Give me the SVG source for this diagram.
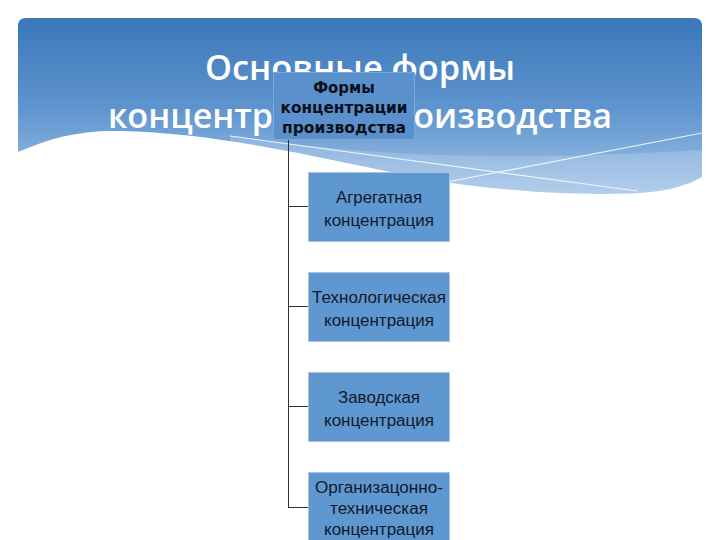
<svg xmlns="http://www.w3.org/2000/svg" width="720" height="540" viewBox="0 0 720 540">
<defs>
<linearGradient id="hdr" x1="0" y1="0" x2="0" y2="1">
<stop offset="0" stop-color="#3b77b9"/>
<stop offset="0.5" stop-color="#5f95cf"/>
<stop offset="1" stop-color="#a6c6e8"/>
</linearGradient>
<style>
.title{font-family:"Open Sans","Noto Sans",sans-serif;font-weight:600;font-size:35px;fill:#ffffff;text-anchor:middle}
.box{fill:#5f97d1;stroke:#a9c3e0;stroke-width:1}
.root{fill:#5a91cc;stroke:#7da9d8;stroke-width:1}
.lbl{font-family:"Liberation Sans",Arial,sans-serif;font-size:16px;fill:#111a2b;text-anchor:middle}
.rlbl{font-family:"DejaVu Sans",Verdana,sans-serif;font-weight:bold;font-size:15px;fill:#0a0f1a;text-anchor:middle}
.conn{fill:none;stroke:#2a2f3a;stroke-width:1}
</style>
</defs>
<rect width="720" height="540" fill="#ffffff"/>
<g id="header">
<path d="M18,26 Q18,18 26,18 L694,18 Q702,18 702,26 L702,200 L18,200 Z" fill="url(#hdr)"/>
<path d="M230,136 C330,150 450,165 702,150 L702,200 L230,200 Z" fill="#ffffff" opacity="0.18"/>
<path d="M230,136 L637,191" stroke="#eaf3fc" stroke-width="1.2" fill="none"/>
<path d="M447,182 L702,133" stroke="#eaf3fc" stroke-width="1.2" fill="none"/>
<path d="M18,152 C50,138 80,130 120,131 C220,133 320,158 420,178 C500,192 580,196 640,193 C670,191 690,184 702,177 L702,200 L18,200 Z" fill="#ffffff"/>
<rect x="0" y="196" width="720" height="10" fill="#ffffff"/>
</g>
<g id="title">
<text class="title" x="360" y="80" textLength="310" lengthAdjust="spacingAndGlyphs">Основные формы</text>
<text class="title" x="360" y="128" textLength="504" lengthAdjust="spacingAndGlyphs">концентрации производства</text>
</g>
<g id="connectors">
<path class="conn" d="M288.5,140 V507.5"/>
<path class="conn" d="M288,206.5 H308"/>
<path class="conn" d="M288,306.5 H308"/>
<path class="conn" d="M288,406.5 H308"/>
<path class="conn" d="M288,507.5 H308"/>
</g>
<g id="root">
<rect class="root" x="273.5" y="72.5" width="141" height="67"/>
<text class="rlbl" x="344" y="93">Формы</text>
<text class="rlbl" x="344" y="113" textLength="127" lengthAdjust="spacingAndGlyphs">концентрации</text>
<text class="rlbl" x="344" y="133" textLength="124" lengthAdjust="spacingAndGlyphs">производства</text>
</g>
<g id="n1">
<rect class="box" x="308.5" y="172.5" width="141" height="69"/>
<text class="lbl" x="379" y="203" textLength="86" lengthAdjust="spacingAndGlyphs">Агрегатная</text>
<text class="lbl" x="379" y="226" textLength="110" lengthAdjust="spacingAndGlyphs">концентрация</text>
</g>
<g id="n2">
<rect class="box" x="308.5" y="272.5" width="141" height="69"/>
<text class="lbl" x="379" y="303" textLength="134" lengthAdjust="spacingAndGlyphs">Технологическая</text>
<text class="lbl" x="379" y="326" textLength="110" lengthAdjust="spacingAndGlyphs">концентрация</text>
</g>
<g id="n3">
<rect class="box" x="308.5" y="372.5" width="141" height="69"/>
<text class="lbl" x="379" y="403" textLength="82" lengthAdjust="spacingAndGlyphs">Заводская</text>
<text class="lbl" x="379" y="426" textLength="110" lengthAdjust="spacingAndGlyphs">концентрация</text>
</g>
<g id="n4">
<rect class="box" x="308.5" y="472.5" width="141" height="70"/>
<text class="lbl" x="379" y="493" textLength="128" lengthAdjust="spacingAndGlyphs">Организацонно-</text>
<text class="lbl" x="379" y="514" textLength="98" lengthAdjust="spacingAndGlyphs">техническая</text>
<text class="lbl" x="379" y="535" textLength="110" lengthAdjust="spacingAndGlyphs">концентрация</text>
</g>
</svg>
